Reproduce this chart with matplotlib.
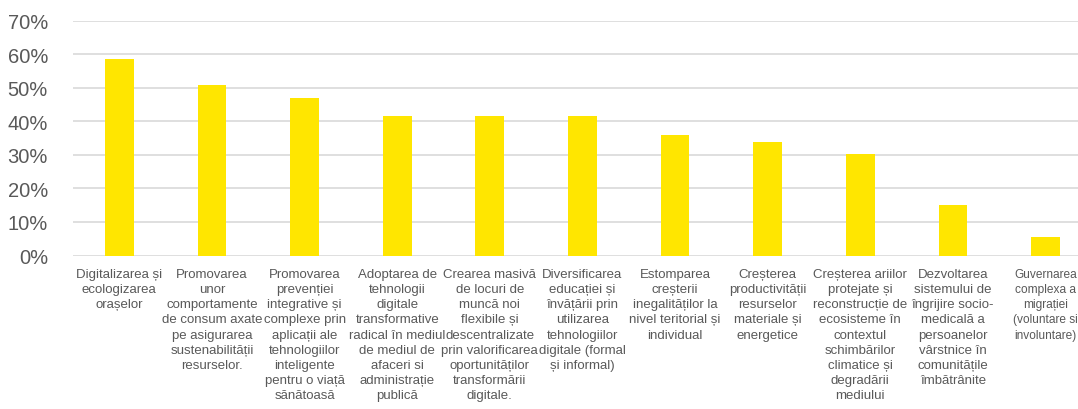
import matplotlib.pyplot as plt
from matplotlib.ticker import PercentFormatter

categorii = [
    "Digitalizarea și\necologizarea\norașelor",
    "Promovarea\nunor\ncomportamente\nde consum axate\npe asigurarea\nsustenabilității\nresurselor.",
    "Promovarea\nprevenției\nintegrative și\ncomplexe prin\naplicații ale\ntehnologiilor\ninteligente\npentru o viață\nsănătoasă",
    "Adoptarea de\ntehnologii\ndigitale\ntransformative\nradical în mediul\nde mediul de\nafaceri si\nadministrație\npublică",
    "Crearea masivă\nde locuri de\nmuncă noi\nflexibile și\ndescentralizate\nprin valorificarea\noportunităților\ntransformării\ndigitale.",
    "Diversificarea\neducației și\nînvățării prin\nutilizarea\ntehnologiilor\ndigitale (formal\nși informal)",
    "Estomparea\ncreșterii\ninegalităților la\nnivel teritorial și\nindividual",
    "Creșterea\nproductivității\nresurselor\nmateriale și\nenergetice",
    "Creșterea ariilor\nprotejate și\nreconstrucție de\necosisteme în\ncontextul\nschimbărilor\nclimatice și\ndegradării\nmediului",
    "Dezvoltarea\nsistemului de\nîngrijire socio-\nmedicală a\npersoanelor\nvârstnice în\ncomunitățile\nîmbătrânite",
    "Guvernarea\ncomplexa a\nmigrației\n(voluntare si\ninvoluntare)",
]
procente = [58.5, 50.9, 47.0, 41.5, 41.5, 41.5, 35.8, 33.9, 30.1, 15.1, 5.5]

plt.rcParams['font.family'] = ['Liberation Sans Narrow', 'Liberation Sans', 'DejaVu Sans']

fig = plt.figure(figsize=(10.78, 4.10), dpi=100)
ax = fig.add_axes([73 / 1078, (410 - 256.5) / 410, 1 - 73 / 1078, 235 / 410])

x = list(range(len(categorii)))
ax.bar(x, procente, width=0.31, color='#FFE600', zorder=3)

ax.set_ylim(0, 70)
ax.set_yticks(range(0, 71, 10))
ax.yaxis.set_major_formatter(PercentFormatter(decimals=0))
ax.set_xlim(-0.5, 10.35)
ax.set_xticks(x)
ax.set_xticklabels(categorii, fontsize=9.5, color='#595959', linespacing=1.35, va='top')
# the last label sits against the right edge, keep it inside
ax.get_xticklabels()[-1].set_fontsize(8.6)

ax.grid(axis='y', color='#d9d9d9', linewidth=1.2, zorder=0)
for s in ax.spines.values():
    s.set_visible(False)
ax.tick_params(axis='y', length=0, labelsize=14.5, labelcolor='#595959', pad=18)
ax.tick_params(axis='x', length=0, pad=9)

plt.savefig("out.png", dpi=100)
